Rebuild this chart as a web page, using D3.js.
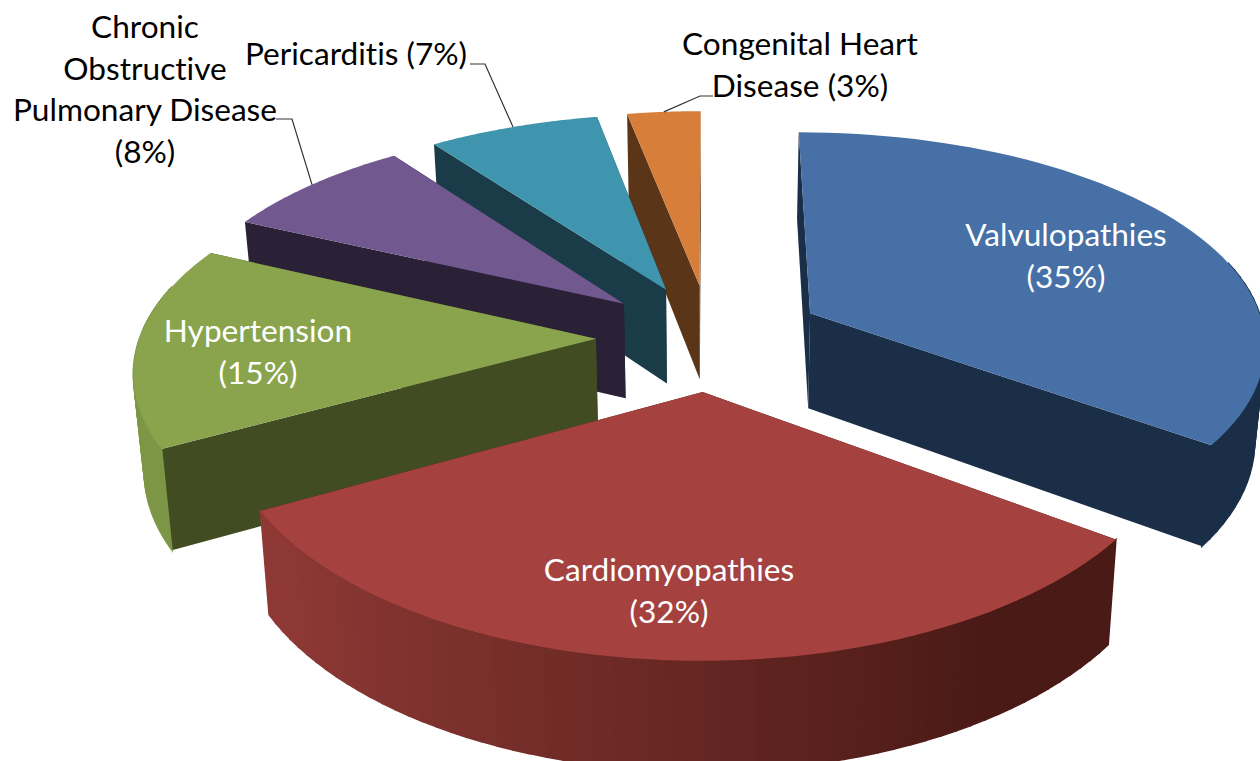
<!DOCTYPE html>
<html>
<head>
<meta charset="utf-8">
<script src="https://cdn.jsdelivr.net/npm/d3@7"></script>
<style>
    html, body { margin: 0; padding: 0; background: #fff; overflow: hidden; }
    text { font-family: Lato, "Open Sans", sans-serif; font-size: 31.6px; font-variant-ligatures: none; }
</style>
</head>
<body>
<div id="container"></div>
<script>
const categories = ['Valvulopathies', 'Cardiomyopathies', 'Hypertension', 'Chronic Obstructive Pulmonary Disease', 'Pericarditis', 'Congenital Heart Disease']
const values = [35, 32, 15, 8, 7, 3]

const topColors = ['#4670a6', '#a5423f', '#89a44c', '#71588f', '#4095ae', '#d77f3a']
const wallColors = ['#1b2e47', '#4a1a16', '#424c22', '#2a2137', '#1a3c48', '#5a3518']
// outer rim goes from the lit left side to the dark right side
const rimLeft = ['#1b2e47', '#913a36', '#7d9746', '#2a2137', '#1a3c48', '#5a3518']
const rimRight = ['#1b2e47', '#4a1a16', '#424c22', '#2a2137', '#1a3c48', '#5a3518']

// draw order, back to front
const drawOrder = [5, 4, 3, 2, 0, 1]

const labelLines = [
    ['Valvulopathies', '(35%)'],
    ['Cardiomyopathies', '(32%)'],
    ['Hypertension', '(15%)'],
    ['Chronic', 'Obstructive', 'Pulmonary Disease', '(8%)'],
    ['Pericarditis (7%)'],
    ['Congenital Heart', 'Disease (3%)']
]
const labelX = [1066, 669, 258, 145, 356, 800]
const labelY = [235, 570, 331, 27, 54, 44]
const labelFill = ['#fff', '#fff', '#fff', '#000', '#000', '#000']
const lineGap = 41.5

// leader elbows, the other end sits on the slice rim
const leaderStart = [null, null, null, [276, 119, 292, 119], [470, 64, 485, 64], [713, 96, 700, 96]]

const width = 1260
const height = 761
const cx = 710
const cy = 337
const radiusX = 456
const radiusY = 213
const perspectiveX = 0.13
const perspectiveY = 0.1425
const explode = 0.25
const depth = 96
const shrink = 0.019

const svg = d3.select('#container').append('svg').attr('width', width).attr('height', height).style('display', 'block')

const pie = d3.pie().sort(null).value(d => d)
const arcs = pie(values)

const xScale = d3.scaleLinear().domain([0, 1]).range([cx, cx + radiusX])
const yScale = d3.scaleLinear().domain([0, 1]).range([cy, cy - radiusY])

// a = angle clockwise from the back, r = 0..1, z = 0 top, 1 bottom
const project = (a, r, z, mid) => {
    const gx = r * Math.sin(a) + explode * Math.sin(mid)
    const gv = r * Math.cos(a) + explode * Math.cos(mid)
    const sx = 1 / (1 + perspectiveX * gv)
    const sy = 1 / (1 + perspectiveY * gv)
    const t = 1 - shrink * z
    return [xScale(gx * sx * t), yScale(gv * sy * t) + depth * z * sy]
}

const line = d3.line()
const closed = pts => line(pts) + 'Z'

drawOrder.forEach(i => {
    const d = arcs[i]
    const mid = (d.startAngle + d.endAngle) / 2
    const g = svg.append('g').attr('class', 'slice')
    const steps = d3.range(0, 61).map(n => d.startAngle + (d.endAngle - d.startAngle) * n / 60)

    // cut faces
    ;[d.startAngle, d.endAngle].forEach(a => {
        g.append('path')
            .attr('d', closed([project(a, 0, 0, mid), project(a, 1, 0, mid), project(a, 1, 1, mid), project(a, 0, 1, mid)]))
            .attr('fill', wallColors[i])
    })

    // outer rim, only the part turned to the viewer
    const shade = d3.interpolateRgb(rimLeft[i], rimRight[i])
    const shadeScale = d3.scaleLinear().domain([-0.9, 0.55]).range([0, 1]).clamp(true)
    steps.slice(1).forEach((a, n) => {
        const a0 = steps[n]
        if (Math.cos((a + a0) / 2) > 0.25) return
        const c = shade(shadeScale(Math.sin((a + a0) / 2)))
        g.append('path')
            .attr('d', closed([project(a0, 1, 0, mid), project(a, 1, 0, mid), project(a, 1, 1, mid), project(a0, 1, 1, mid)]))
            .attr('fill', c)
            .attr('stroke', c)
            .attr('stroke-width', 1.5)
    })

    // top face
    const top = [project(0, 0, 0, mid)].concat(steps.map(a => project(a, 1, 0, mid)))
    g.append('path').attr('d', closed(top)).attr('fill', topColors[i])
})

// leader lines
leaderStart.forEach((p, i) => {
    if (!p) return
    const d = arcs[i]
    const mid = (d.startAngle + d.endAngle) / 2
    const end = project(mid, 1, 0, mid)
    svg.append('path')
        .attr('d', line([[p[0], p[1]], [p[2], p[3]], end]))
        .attr('fill', 'none')
        .attr('stroke', '#333')
        .attr('stroke-width', 1.2)
})

// labels
labelLines.forEach((rows, i) => {
    rows.forEach((row, n) => {
        svg.append('text')
            .attr('x', labelX[i])
            .attr('y', labelY[i] + n * lineGap)
            .attr('dy', '0.35em')
            .attr('text-anchor', 'middle')
            .attr('fill', labelFill[i])
            .text(row)
    })
})
</script>
</body>
</html>
